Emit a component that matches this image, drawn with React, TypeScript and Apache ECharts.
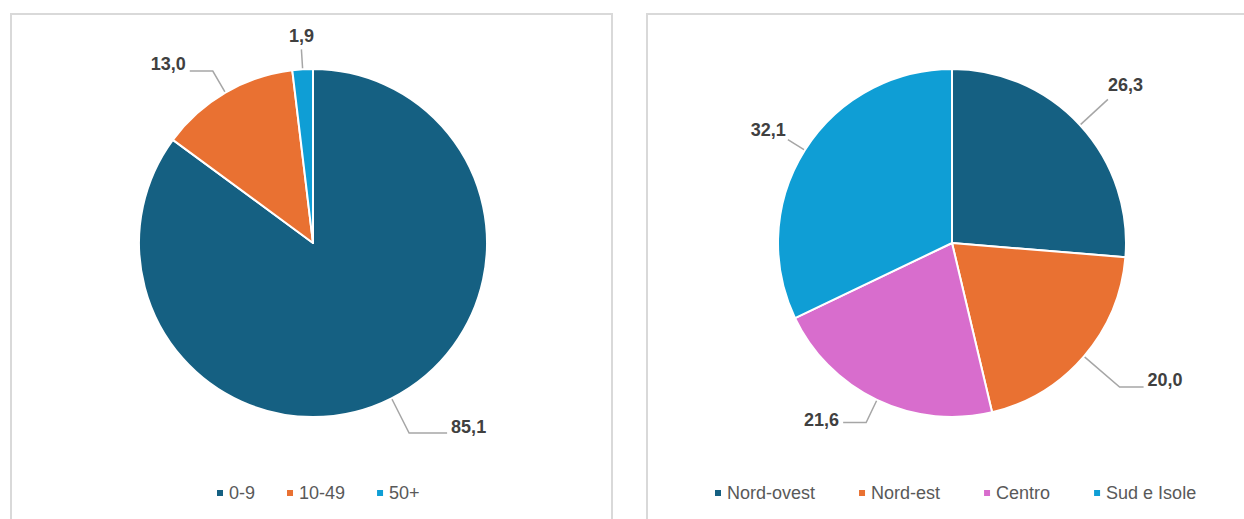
import React, { useEffect, useRef } from "react";
import * as echarts from "echarts";

const sizeCategories = ["0-9", "10-49", "50+"];
const sizeValues = [85.1, 13.0, 1.9];
const sizeColors = ["#156082", "#E97132", "#0F9ED5"];
const sizeLineLength = [39, 25, 20];
const sizeLineLength2 = [38, 23, 0];
const sizeLabelDy = [-6, -7, -8];

const areaCategories = ["Nord-ovest", "Nord-est", "Centro", "Sud e Isole"];
const areaValues = [26.3, 20.0, 21.6, 32.1];
const areaColors = ["#156082", "#E97132", "#D86DCD", "#0F9ED5"];
const areaLineLength = [38, 47, 25, 20];
const areaLineLength2 = [0, 24, 23, 0];
const areaLabelDy = [-14, -7, -3, -10];
const areaLabelDx = [-4, 0, 0, 2];

const FONT = "'Liberation Sans', Arial, sans-serif";

function fmt(v: number): string {
  return v.toFixed(1).replace(".", ",");
}

export default function App() {
  const ref = useRef<HTMLDivElement>(null);

  useEffect(() => {
    if (!ref.current) return;
    const chart = echarts.init(ref.current, undefined, { renderer: "svg" });

    const labelBase = {
      show: true,
      position: "outside",
      formatter: (p: any) => fmt(p.value),
      fontFamily: FONT,
      fontSize: 18,
      fontWeight: "bold",
      color: "#404040",
      distanceToLabelLine: 4,
    };

    const sizeData = sizeCategories.map((name, i) => ({
      name,
      value: sizeValues[i],
      itemStyle: { color: sizeColors[i] },
      labelLine: { length: sizeLineLength[i], length2: sizeLineLength2[i] },
      label: i === 2 ? { distanceToLabelLine: 0 } : {},
    }));

    const areaData = areaCategories.map((name, i) => ({
      name,
      value: areaValues[i],
      itemStyle: { color: areaColors[i] },
      labelLine: { length: areaLineLength[i], length2: areaLineLength2[i] },
    }));

    const legendBase = {
      orient: "horizontal",
      itemWidth: 8,
      itemHeight: 8,
      icon: "rect",
      top: 479,
      textStyle: { fontFamily: FONT, fontSize: 18, color: "#595959" },
    };

    const lineStyle = { color: "#a6a6a6", width: 1.5 };

    chart.setOption({
      animation: false,
      backgroundColor: "#ffffff",
      legend: [
        { ...legendBase, left: 210, itemGap: 30, data: sizeCategories },
        { ...legendBase, left: 708, itemGap: 42, data: areaCategories },
      ],
      graphic: [
        {
          type: "rect",
          shape: { x: 11, y: 14, width: 601, height: 520 },
          style: { fill: "none", stroke: "#d9d9d9", lineWidth: 2 },
          silent: true,
        },
        {
          type: "rect",
          shape: { x: 647, y: 14, width: 610, height: 520 },
          style: { fill: "none", stroke: "#d9d9d9", lineWidth: 2 },
          silent: true,
        },
      ],
      series: [
        {
          type: "pie",
          center: [313, 243],
          radius: 174,
          startAngle: 90,
          clockwise: true,
          avoidLabelOverlap: false,
          itemStyle: { borderColor: "#ffffff", borderWidth: 2 },
          label: labelBase,
          labelLine: { show: true, lineStyle },
          labelLayout: (params: any) =>
            params.dataIndex === 2
              ? { align: "center", verticalAlign: "bottom", dy: sizeLabelDy[2] + 4 }
              : { dy: sizeLabelDy[params.dataIndex] },
          emphasis: { disabled: true },
          data: sizeData,
        },
        {
          type: "pie",
          center: [952, 243],
          radius: 174,
          startAngle: 90,
          clockwise: true,
          avoidLabelOverlap: false,
          itemStyle: { borderColor: "#ffffff", borderWidth: 2 },
          label: labelBase,
          labelLine: { show: true, lineStyle },
          labelLayout: (params: any) => ({
            dx: areaLabelDx[params.dataIndex],
            dy: areaLabelDy[params.dataIndex],
          }),
          emphasis: { disabled: true },
          data: areaData,
        },
      ],
    });

    return () => chart.dispose();
  }, []);

  return (
    <div
      ref={ref}
      style={{
        position: "absolute",
        left: 0,
        top: 0,
        width: 1244,
        height: 519,
        background: "#fff",
      }}
    />
  );
}
